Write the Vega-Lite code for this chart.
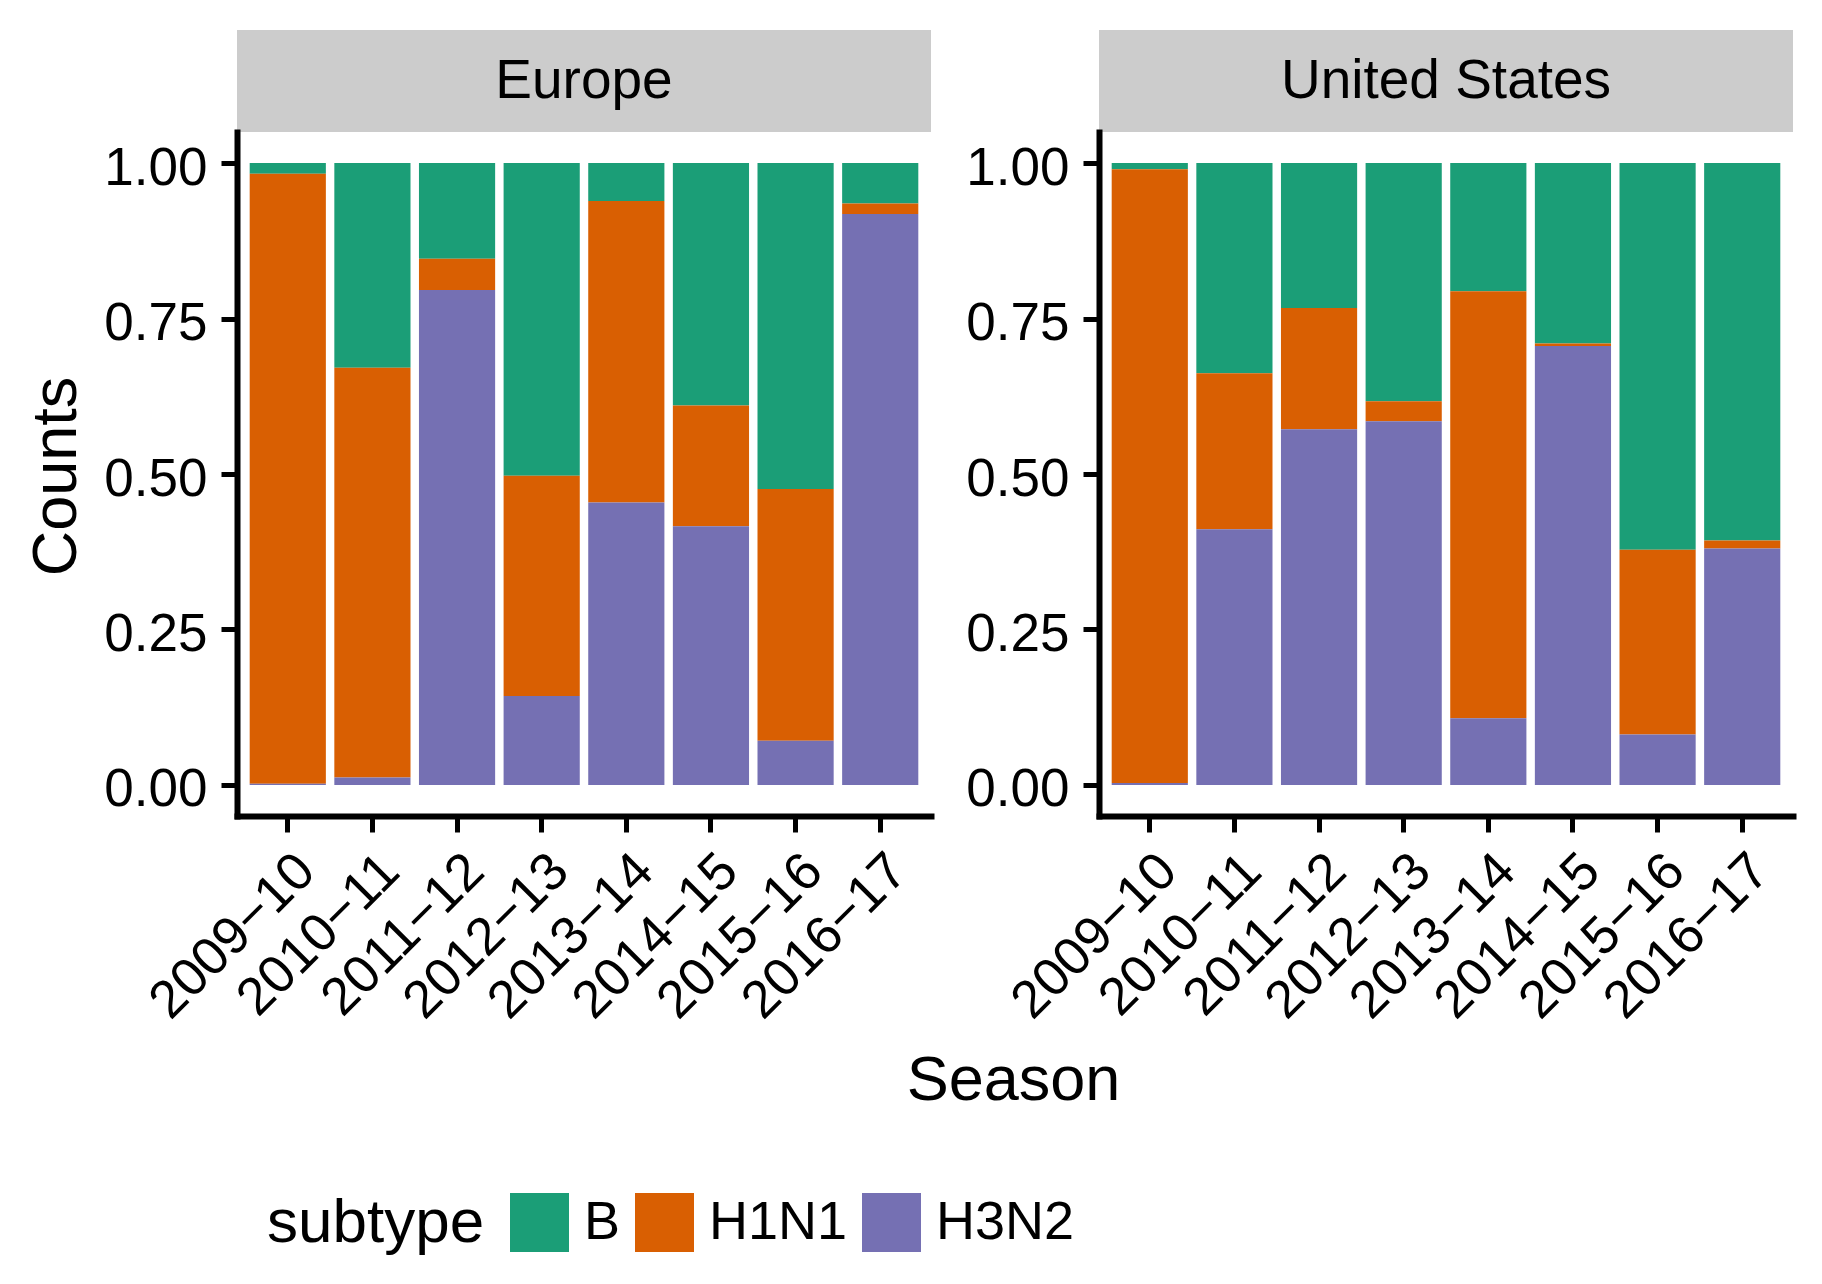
{
  "$schema": "https://vega.github.io/schema/vega-lite/v6.json",
  "padding": {"left": 25, "top": 30, "right": 17, "bottom": 20},
  "background": "white",
  "datasets": {
    "flu": [
      {"region": "Europe", "season": "2009−10", "subtype": "B", "count": 0.017},
      {"region": "Europe", "season": "2009−10", "subtype": "H1N1", "count": 0.981},
      {"region": "Europe", "season": "2009−10", "subtype": "H3N2", "count": 0.002},
      {"region": "Europe", "season": "2010−11", "subtype": "B", "count": 0.329},
      {"region": "Europe", "season": "2010−11", "subtype": "H1N1", "count": 0.659},
      {"region": "Europe", "season": "2010−11", "subtype": "H3N2", "count": 0.012},
      {"region": "Europe", "season": "2011−12", "subtype": "B", "count": 0.154},
      {"region": "Europe", "season": "2011−12", "subtype": "H1N1", "count": 0.050},
      {"region": "Europe", "season": "2011−12", "subtype": "H3N2", "count": 0.796},
      {"region": "Europe", "season": "2012−13", "subtype": "B", "count": 0.503},
      {"region": "Europe", "season": "2012−13", "subtype": "H1N1", "count": 0.354},
      {"region": "Europe", "season": "2012−13", "subtype": "H3N2", "count": 0.143},
      {"region": "Europe", "season": "2013−14", "subtype": "B", "count": 0.061},
      {"region": "Europe", "season": "2013−14", "subtype": "H1N1", "count": 0.485},
      {"region": "Europe", "season": "2013−14", "subtype": "H3N2", "count": 0.454},
      {"region": "Europe", "season": "2014−15", "subtype": "B", "count": 0.390},
      {"region": "Europe", "season": "2014−15", "subtype": "H1N1", "count": 0.194},
      {"region": "Europe", "season": "2014−15", "subtype": "H3N2", "count": 0.416},
      {"region": "Europe", "season": "2015−16", "subtype": "B", "count": 0.524},
      {"region": "Europe", "season": "2015−16", "subtype": "H1N1", "count": 0.405},
      {"region": "Europe", "season": "2015−16", "subtype": "H3N2", "count": 0.071},
      {"region": "Europe", "season": "2016−17", "subtype": "B", "count": 0.065},
      {"region": "Europe", "season": "2016−17", "subtype": "H1N1", "count": 0.017},
      {"region": "Europe", "season": "2016−17", "subtype": "H3N2", "count": 0.918},
      {"region": "United States", "season": "2009−10", "subtype": "B", "count": 0.010},
      {"region": "United States", "season": "2009−10", "subtype": "H1N1", "count": 0.987},
      {"region": "United States", "season": "2009−10", "subtype": "H3N2", "count": 0.003},
      {"region": "United States", "season": "2010−11", "subtype": "B", "count": 0.338},
      {"region": "United States", "season": "2010−11", "subtype": "H1N1", "count": 0.251},
      {"region": "United States", "season": "2010−11", "subtype": "H3N2", "count": 0.411},
      {"region": "United States", "season": "2011−12", "subtype": "B", "count": 0.233},
      {"region": "United States", "season": "2011−12", "subtype": "H1N1", "count": 0.195},
      {"region": "United States", "season": "2011−12", "subtype": "H3N2", "count": 0.572},
      {"region": "United States", "season": "2012−13", "subtype": "B", "count": 0.383},
      {"region": "United States", "season": "2012−13", "subtype": "H1N1", "count": 0.032},
      {"region": "United States", "season": "2012−13", "subtype": "H3N2", "count": 0.585},
      {"region": "United States", "season": "2013−14", "subtype": "B", "count": 0.206},
      {"region": "United States", "season": "2013−14", "subtype": "H1N1", "count": 0.687},
      {"region": "United States", "season": "2013−14", "subtype": "H3N2", "count": 0.107},
      {"region": "United States", "season": "2014−15", "subtype": "B", "count": 0.290},
      {"region": "United States", "season": "2014−15", "subtype": "H1N1", "count": 0.004},
      {"region": "United States", "season": "2014−15", "subtype": "H3N2", "count": 0.706},
      {"region": "United States", "season": "2015−16", "subtype": "B", "count": 0.622},
      {"region": "United States", "season": "2015−16", "subtype": "H1N1", "count": 0.297},
      {"region": "United States", "season": "2015−16", "subtype": "H3N2", "count": 0.081},
      {"region": "United States", "season": "2016−17", "subtype": "B", "count": 0.607},
      {"region": "United States", "season": "2016−17", "subtype": "H1N1", "count": 0.013},
      {"region": "United States", "season": "2016−17", "subtype": "H3N2", "count": 0.380}
    ]
  },
  "data": {"name": "flu"},
  "columns": 2,
  "spacing": {"row": 0, "column": 168},
  "bounds": "flush",
  "concat": [
    {
      "width": 694,
      "height": 102,
      "view": {"fill": "#CCCCCC", "stroke": null},
      "transform": [
        {"filter": "datum.region === 'Europe'"},
        {"aggregate": [{"op": "count", "as": "n"}], "groupby": ["region"]}
      ],
      "mark": {"type": "text", "fontSize": 55, "color": "black", "baseline": "middle"},
      "encoding": {"text": {"field": "region", "type": "nominal"}}
    },
    {
      "width": 694,
      "height": 102,
      "view": {"fill": "#CCCCCC", "stroke": null},
      "transform": [
        {"filter": "datum.region === 'United States'"},
        {"aggregate": [{"op": "count", "as": "n"}], "groupby": ["region"]}
      ],
      "mark": {"type": "text", "fontSize": 55, "color": "black", "baseline": "middle"},
      "encoding": {"text": {"field": "region", "type": "nominal"}}
    },
    {
      "width": 694,
      "height": 684,
      "transform": [{"filter": "datum.region === 'Europe'"}],
      "mark": {"type": "bar"},
      "encoding": {
        "x": {
          "field": "season",
          "type": "ordinal",
          "scale": {"paddingInner": 0.1, "paddingOuter": 0.15},
          "axis": {
            "title": "Season",
            "titleX": 776,
            "titleY": 283,
            "titleAlign": "center",
            "titleBaseline": "alphabetic",
            "labelAngle": -45,
            "labelAlign": "right",
            "labelBaseline": "top",
            "labelPadding": 12
          }
        },
        "y": {
          "field": "count",
          "type": "quantitative",
          "stack": "zero",
          "scale": {"domain": [-0.05, 1.05], "nice": false, "zero": false},
          "axis": {
            "title": "Counts",
            "titleX": -162,
            "titleY": 344,
            "titleAngle": -90,
            "titleAlign": "center",
            "titleBaseline": "alphabetic",
            "values": [0, 0.25, 0.5, 0.75, 1],
            "format": ".2f",
            "labelPadding": 14,
            "labelOffset": 5
          }
        },
        "color": {
          "field": "subtype",
          "type": "nominal",
          "scale": {"domain": ["B", "H1N1", "H3N2"], "range": ["#1B9E77", "#D95F02", "#7570B3"]},
          "legend": {
            "title": "subtype",
            "orient": "none",
            "legendX": 30,
            "legendY": 1163,
            "direction": "horizontal",
            "titleOrient": "left"
          }
        },
        "order": {"field": "subtype", "sort": "descending"}
      }
    },
    {
      "width": 694,
      "height": 684,
      "transform": [{"filter": "datum.region === 'United States'"}],
      "mark": {"type": "bar"},
      "encoding": {
        "x": {
          "field": "season",
          "type": "ordinal",
          "scale": {"paddingInner": 0.1, "paddingOuter": 0.15},
          "axis": {
            "title": null,
            "labelAngle": -45,
            "labelAlign": "right",
            "labelBaseline": "top",
            "labelPadding": 12
          }
        },
        "y": {
          "field": "count",
          "type": "quantitative",
          "stack": "zero",
          "scale": {"domain": [-0.05, 1.05], "nice": false, "zero": false},
          "axis": {
            "title": null,
            "values": [0, 0.25, 0.5, 0.75, 1],
            "format": ".2f",
            "labelPadding": 14,
            "labelOffset": 5
          }
        },
        "color": {
          "field": "subtype",
          "type": "nominal",
          "scale": {"domain": ["B", "H1N1", "H3N2"], "range": ["#1B9E77", "#D95F02", "#7570B3"]},
          "legend": {
            "title": "subtype",
            "orient": "none",
            "legendX": 30,
            "legendY": 1163,
            "direction": "horizontal",
            "titleOrient": "left"
          }
        },
        "order": {"field": "subtype", "sort": "descending"}
      }
    }
  ],
  "config": {
    "font": "Liberation Sans",
    "view": {"stroke": null},
    "axis": {
      "grid": false,
      "domainColor": "black",
      "domainWidth": 6,
      "domainCap": "square",
      "tickColor": "black",
      "tickWidth": 5,
      "tickSize": 16,
      "labelColor": "black",
      "labelFontSize": 53,
      "labelLimit": 0,
      "titleColor": "black",
      "titleFontSize": 63,
      "titleFontWeight": "normal"
    },
    "legend": {
      "padding": 0,
      "titleColor": "black",
      "titleFontSize": 62,
      "titleFontWeight": "normal",
      "titlePadding": 25,
      "titleLimit": 0,
      "labelColor": "black",
      "labelFontSize": 54,
      "labelLimit": 0,
      "labelOffset": 15,
      "columnPadding": 14,
      "symbolType": "square",
      "symbolSize": 3481,
      "symbolStrokeWidth": 0,
      "symbolOpacity": 1
    }
  }
}
